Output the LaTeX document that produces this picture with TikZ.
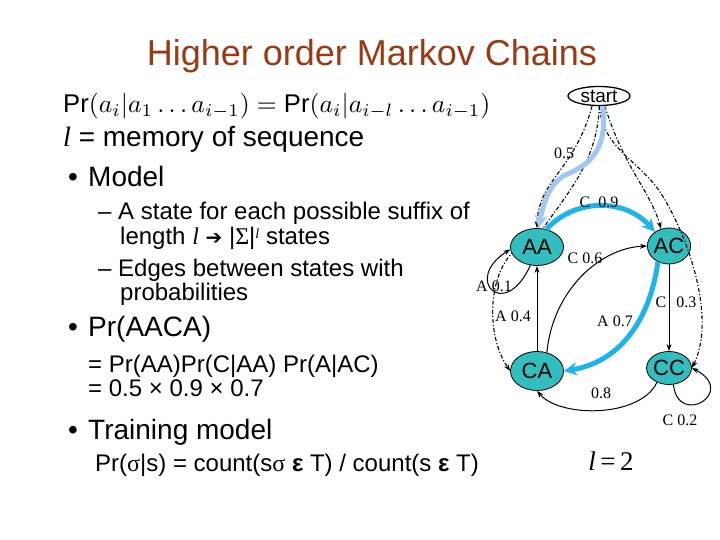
\documentclass[tikz,border=0pt]{standalone}
\usepackage{fontspec}
\setmainfont{Liberation Sans}
\newfontfamily\serifff{Liberation Serif}
\newfontfamily\dejavu{DejaVu Sans}
\usetikzlibrary{shapes.geometric,arrows.meta}
\pgfdeclarelayer{background}
\pgfsetlayers{background,main}
\definecolor{titlebrown}{RGB}{150,60,20}
\definecolor{statefill}{RGB}{50,190,190}
\definecolor{hotcyan}{RGB}{30,180,235}
\definecolor{paleblue}{RGB}{160,200,240}
\begin{document}
\begin{tikzpicture}[x=1pt,y=-1pt,
  state/.style={ellipse,draw=black,line width=0.8pt,fill=statefill,inner sep=0pt,font=\fontsize{22}{22}\selectfont},
  bigtxt/.style={anchor=base west,inner sep=0pt,font=\fontsize{28}{30}\selectfont},
  subtxt/.style={anchor=base west,inner sep=0pt,font=\fontsize{24}{26}\selectfont},
  elabel/.style={font=\serifff\fontsize{16}{16}\selectfont,inner sep=0pt},
  tran/.style={line width=1pt,-{Stealth[length=7pt,width=5pt]}},
  startedge/.style={line width=1.1pt,dash pattern=on 4pt off 2pt on 1.2pt off 2pt,-{Stealth[length=7pt,width=5pt]}},
  hot/.style={line width=5pt,hotcyan,-{Stealth[length=13pt,width=13pt]}},
  pale/.style={line width=5pt,paleblue,-{Stealth[length=13pt,width=13pt]}},
]
\useasboundingbox (0,0) rectangle (720,540);
\begin{pgfonlayer}{background}
\fill[white] (0,0) rectangle (720,540);
\end{pgfonlayer}

% title and text
\node[anchor=base,inner sep=0pt,font=\fontsize{36}{36}\selectfont,text=titlebrown] (title) at (372,66) {Higher order Markov Chains};
\node[anchor=base west,inner sep=0pt] (formula) at (63,113)
  {\resizebox{427pt}{!}{$\mbox{Pr}(a_i|a_1\ldots a_{i-1}) = \mbox{Pr}(a_i|a_{i-l}\ldots a_{i-1})$}};
\node[bigtxt] (mem) at (63,147) {{\serifff\itshape l} = memory of sequence};
\node[bigtxt] (model) at (68,187) {\makebox[20pt][l]{•}Model};
\node[subtxt] (s1) at (98,219) {\makebox[20pt][l]{–}A state for each possible suffix of};
\node[subtxt] (s1b) at (120,244) {length {\serifff\itshape l} {\dejavu\fontsize{20}{20}\selectfont ➔} |{\serifff Σ}|\raisebox{6pt}{\fontsize{14}{14}\selectfont\serifff\itshape l} states};
\node[subtxt] (s2) at (98,276) {\makebox[20pt][l]{–}Edges between states with};
\node[subtxt] (s2b) at (120,300) {probabilities};
\node[bigtxt] (praaca) at (68,336) {\makebox[20pt][l]{•}Pr(AACA)};
\node[subtxt] (eq1) at (88,372) {= Pr(AA)Pr(C|AA) Pr(A|AC)};
\node[subtxt] (eq2) at (88,396) {= 0.5 × 0.9 × 0.7};
\node[bigtxt] (train) at (68,439) {\makebox[20pt][l]{•}Training model};
\node[subtxt] (count) at (95,471) {Pr({\serifff σ}|s) = count(s{\serifff σ} {\bfseries ε} T) / count(s {\bfseries ε} T)};

% states
\node[ellipse,draw=black,line width=1.3pt,fill=white,inner sep=0pt,minimum width=62pt,minimum height=19pt,font=\fontsize{19}{19}\selectfont] (start) at (599,96) {start};
\node[state,minimum width=53pt,minimum height=37pt] (AA) at (537,247) {AA};
\node[state,minimum width=42pt,minimum height=36pt] (AC) at (669,246) {AC};
\node[state,minimum width=53pt,minimum height=39pt] (CA) at (537,371) {CA};
\node[state,minimum width=42pt,minimum height=33pt] (CC) at (669,368) {CC};

% start transition hidden behind AA
\begin{pgfonlayer}{background}
\draw[startedge] (start.272) .. controls (597,165) and (565,195) .. (535,240) .. controls (488,250) and (482,330) .. (CA.west);
\end{pgfonlayer}
\draw[startedge] (start.235) .. controls (575,170) and (538,180) .. (AA.north);
\draw[startedge] (start.300) .. controls (625,170) and (650,190) .. (AC.115);
\draw[startedge] (start.272) .. controls (603,150) and (640,160) .. (662,195) .. controls (690,240) and (716,320) .. (CC.east);

% solid transitions
\draw[tran] (CA.north) -- (AA.south);
\draw[tran] (AA.250) .. controls (505,322) and (462,280) .. (AA.185);
\draw[tran] (CA.62) .. controls (553,290) and (600,248) .. (AC.west);
\draw[tran] (AC.south) -- (CC.north);
\draw[tran] (CC.230) .. controls (640,418) and (560,418) .. (CA.south);
\draw[tran] (CC.285) .. controls (678,428) and (738,392) .. (CC.east);

% highlighted path
\draw[pale] (start.290) .. controls (608,150) and (590,165) .. (565,175) .. controls (548,185) and (543,205) .. (AA.85);
\draw[hot] (AA.62) .. controls (575,198) and (625,198) .. (AC.135);
\draw[hot] (AC.235) .. controls (650,320) and (620,362) .. (CA.east);

% labels
\node[elabel] (l05) at (564,153) {0.5};
\node[elabel] (l09) at (599,202) {C\hspace{8pt}0.9};
\node[elabel] (l06) at (585,258) {C 0.6};
\node[elabel] (l01) at (494,286) {A 0.1};
\node[elabel] (l04) at (513,316) {A 0.4};
\node[elabel] (l07) at (615,321) {A 0.7};
\node[elabel] (l03) at (676,302) {C\hspace{10pt}0.3};
\node[elabel] (l08) at (601,393) {0.8};
\node[elabel] (l02) at (680,420) {C 0.2};
\node[font=\serifff\fontsize{27}{27}\selectfont,inner sep=0pt] (ell) at (611,461) {\textit{l}\,=\,2};
\end{tikzpicture}
\end{document}
